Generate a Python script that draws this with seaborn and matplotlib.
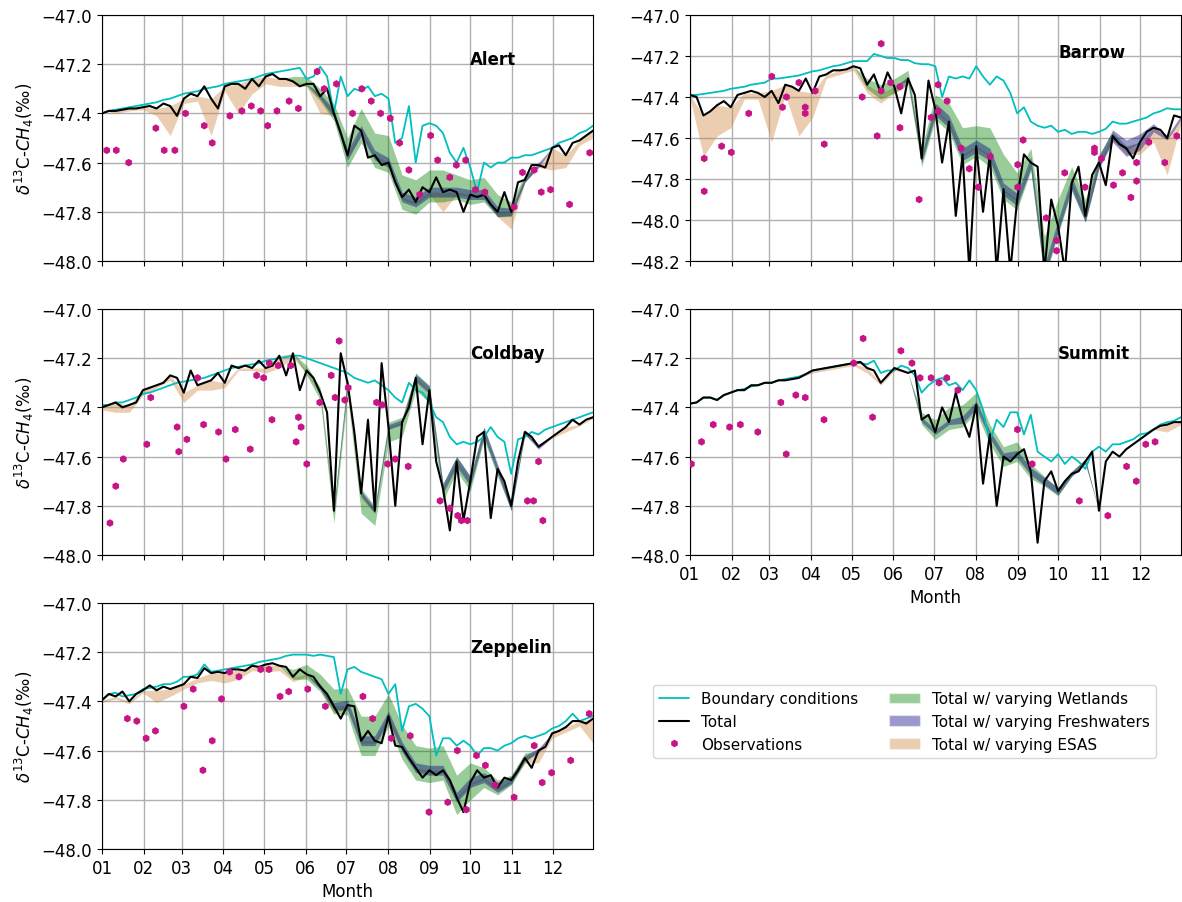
import numpy as np
import pandas as pd
import matplotlib
matplotlib.use("Agg")
import matplotlib.pyplot as plt
from matplotlib.lines import Line2D
from matplotlib.patches import Patch
from matplotlib.ticker import FuncFormatter
import seaborn as sns

# model series every ~5 days (73 points), band spreads every ~10 days (37 points)
days = np.arange(73) * 364 / 72
band_days = days[::2]

month_start = [0, 31, 59, 90, 120, 151, 181, 212, 243, 273, 304, 334]
month_labels = ["01", "02", "03", "04", "05", "06", "07", "08", "09", "10", "11", "12"]

# ---------------- Alert ----------------
alert_total = [
    -47.40, -47.39, -47.39, -47.385, -47.38, -47.38, -47.375, -47.37, -47.38, -47.36,
    -47.37, -47.41, -47.34, -47.32, -47.33, -47.29, -47.34, -47.38, -47.29, -47.28,
    -47.28, -47.30, -47.26, -47.29, -47.25, -47.24, -47.26, -47.26, -47.27, -47.29,
    -47.28, -47.28, -47.33, -47.30, -47.40, -47.48, -47.57, -47.45, -47.47, -47.58,
    -47.57, -47.61, -47.60, -47.68, -47.74, -47.71, -47.76, -47.70, -47.72, -47.66,
    -47.72, -47.71, -47.72, -47.80, -47.73, -47.74, -47.73, -47.77, -47.80, -47.72,
    -47.80, -47.68, -47.67, -47.61, -47.61, -47.62, -47.54, -47.53, -47.57, -47.52,
    -47.51, -47.49, -47.47]
alert_bc = [
    -47.40, -47.39, -47.385, -47.38, -47.375, -47.37, -47.365, -47.36, -47.355, -47.345,
    -47.34, -47.33, -47.32, -47.315, -47.31, -47.30, -47.295, -47.29, -47.28, -47.275,
    -47.27, -47.265, -47.26, -47.25, -47.24, -47.235, -47.23, -47.225, -47.22, -47.215,
    -47.26, -47.25, -47.21, -47.25, -47.40, -47.25, -47.33, -47.30, -47.31, -47.29,
    -47.33, -47.32, -47.34, -47.52, -47.50, -47.37, -47.60, -47.45, -47.44, -47.45,
    -47.48, -47.56, -47.60, -47.54, -47.62, -47.72, -47.60, -47.62, -47.60, -47.60,
    -47.58, -47.58, -47.57, -47.57, -47.56, -47.55, -47.54, -47.52, -47.51, -47.50,
    -47.48, -47.47, -47.45]
alert_esas = [
    0.00, 0.01, 0.01, 0.01, 0.03, 0.12, 0.02, 0.02, 0.15, 0.02,
    0.12, 0.06, 0.03, 0.03, 0.02, 0.01, 0.07, 0.01, 0.01, 0.01,
    0.01, 0.01, 0.01, 0.01, 0.01, 0.08, 0.01, 0.01, 0.01, 0.02,
    0.07, 0.01, 0.01, 0.09, 0.05, 0.02, 0.03]
alert_wet_up = [
    0, 0, 0, 0, 0, 0, 0, 0, 0, 0,
    0, 0, 0, 0, 0.02, 0.03, 0.03, 0.04, 0.07, 0.09,
    0.09, 0.11, 0.09, 0.09, 0.09, 0.09, 0.07, 0.06, 0.07, 0.07,
    0.04, 0.02, 0, 0, 0, 0, 0]
alert_wet_dn = [
    0, 0, 0, 0, 0, 0, 0, 0, 0, 0,
    0, 0, 0, 0, 0, 0.01, 0.02, 0.03, 0.05, 0.05,
    0.05, 0.04, 0.05, 0.05, 0.04, 0.04, 0.03, 0.04, 0.03, 0.02,
    0.02, 0.01, 0, 0, 0, 0, 0]
alert_fw = [
    0, 0, 0, 0, 0, 0, 0, 0, 0, 0,
    0, 0, 0, 0, 0, 0, 0.01, 0.015, 0.02, 0.02,
    0.02, 0.02, 0.02, 0.02, 0.02, 0.02, 0.02, 0.02, 0.02, 0.02,
    0.015, 0.01, 0.01, 0, 0, 0, 0]
alert_obs_day = [3.5, 10.6, 19.8, 39.9, 46.1, 54.0, 61.9, 75.8, 81.7, 94.8, 103.7, 110.7, 117.6, 122.8,
                 129.7, 138.7, 145.6, 159.5, 164.7, 173.8, 185.7, 192.6, 199.6, 206.5, 213.7, 220.6,
                 227.5, 235.5, 243.6, 248.8, 257.8, 262.7, 269.6, 276.8, 283.8, 305.5, 311.7, 320.4,
                 325.6, 332.5, 346.6, 361.5]
alert_obs_val = [-47.55, -47.55, -47.60, -47.46, -47.55, -47.55, -47.40, -47.45, -47.52, -47.41,
                 -47.39, -47.37, -47.39, -47.45, -47.39, -47.35, -47.38, -47.23, -47.30, -47.28,
                 -47.40, -47.30, -47.35, -47.40, -47.42, -47.52, -47.63, -47.73, -47.49, -47.59,
                 -47.66, -47.61, -47.59, -47.71, -47.72, -47.78, -47.64, -47.63, -47.72, -47.71,
                 -47.77, -47.56]

# ---------------- Barrow ----------------
barrow_total = [
    -47.39, -47.40, -47.49, -47.47, -47.44, -47.42, -47.45, -47.39, -47.38, -47.37,
    -47.38, -47.40, -47.37, -47.43, -47.34, -47.35, -47.37, -47.31, -47.38, -47.30,
    -47.29, -47.27, -47.27, -47.265, -47.25, -47.26, -47.34, -47.29, -47.38, -47.28,
    -47.35, -47.48, -47.31, -47.39, -47.70, -47.32, -47.46, -47.72, -47.52, -47.98,
    -47.68, -48.25, -47.64, -47.96, -47.68, -48.25, -47.85, -48.25, -47.90, -47.68,
    -47.72, -47.74, -48.25, -47.90, -48.03, -48.25, -47.82, -47.74, -47.98, -47.78,
    -47.72, -47.83, -47.59, -47.63, -47.65, -47.70, -47.62, -47.57, -47.55, -47.56,
    -47.60, -47.49, -47.50]
barrow_bc = [
    -47.39, -47.39, -47.385, -47.38, -47.375, -47.37, -47.36, -47.355, -47.35, -47.34,
    -47.335, -47.33, -47.31, -47.31, -47.305, -47.30, -47.295, -47.285, -47.275, -47.27,
    -47.26, -47.25, -47.245, -47.235, -47.225, -47.225, -47.225, -47.19, -47.20, -47.21,
    -47.21, -47.22, -47.22, -47.235, -47.24, -47.24, -47.25, -47.40, -47.30, -47.31,
    -47.30, -47.31, -47.25, -47.30, -47.34, -47.30, -47.32, -47.38, -47.48, -47.45,
    -47.52, -47.54, -47.55, -47.54, -47.57, -47.56, -47.58, -47.57, -47.57, -47.58,
    -47.57, -47.555, -47.52, -47.53, -47.53, -47.52, -47.51, -47.50, -47.48, -47.47,
    -47.455, -47.46, -47.46]
barrow_esas = [
    0.01, 0.20, 0.15, 0.10, 0.03, 0.03, 0.25, 0.05, 0.22, 0.12,
    0.02, 0.02, 0.02, 0.04, 0.05, 0.03, 0.02, 0.01, 0.01, 0.01,
    0.01, 0.01, 0.01, 0.01, 0.01, 0.01, 0.01, 0.01, 0.01, 0.02,
    0.02, 0.02, 0.03, 0.06, 0.07, 0.18, 0.03]
barrow_wet_up = [
    0, 0, 0, 0, 0, 0, 0, 0, 0, 0,
    0, 0, 0, 0.03, 0.04, 0.04, 0.04, 0.05, 0.07, 0.09,
    0.13, 0.10, 0.13, 0.17, 0.13, 0.07, 0.17, 0.13, 0.08, 0.08,
    0.04, 0.02, 0.01, 0, 0, 0, 0]
barrow_wet_dn = [
    0, 0, 0, 0, 0, 0, 0, 0, 0, 0,
    0, 0, 0, 0.02, 0.03, 0.03, 0.03, 0.04, 0.05, 0.05,
    0.05, 0.05, 0.06, 0.05, 0.05, 0.04, 0.04, 0.04, 0.04, 0.03,
    0.02, 0.02, 0.01, 0, 0, 0, 0]
barrow_fw = [
    0, 0, 0, 0, 0, 0, 0, 0, 0, 0,
    0, 0, 0, 0, 0, 0, 0.01, 0.02, 0.03, 0.03,
    0.03, 0.03, 0.03, 0.03, 0.03, 0.03, 0.03, 0.03, 0.03, 0.03,
    0.03, 0.03, 0.04, 0.04, 0.02, 0.01, 0.01]
barrow_obs_day = [10.7, 10.7, 23.6, 30.8, 43.7, 60.8, 68.7, 71.7, 80.9, 85.6, 85.6, 93.0, 99.7, 127.8,
                  138.9, 141.9, 141.9, 148.9, 155.8, 155.8, 170.0, 178.9, 184.1, 184.1, 190.8, 201.2,
                  207.2, 213.9, 222.8, 243.1, 243.1, 247.1, 264.2, 271.9, 271.9, 277.9, 293.0, 300.0,
                  300.0, 305.2, 314.1, 320.8, 327.0, 331.2, 331.2, 340.2, 352.1, 361.0]
barrow_obs_val = [-47.70, -47.86, -47.64, -47.67, -47.48, -47.30, -47.45, -47.40, -47.33, -47.45,
                  -47.48, -47.37, -47.63, -47.40, -47.59, -47.14, -47.37, -47.33, -47.35, -47.55,
                  -47.90, -47.50, -47.34, -47.47, -47.42, -47.65, -47.75, -47.84, -47.69, -47.73,
                  -47.84, -47.61, -47.99, -48.10, -48.15, -47.77, -47.84, -47.65, -47.67, -47.70,
                  -47.83, -47.77, -47.89, -47.72, -47.81, -47.62, -47.72, -47.59]

# ---------------- Coldbay ----------------
coldbay_total = [
    -47.40, -47.39, -47.38, -47.40, -47.39, -47.38, -47.33, -47.32, -47.31, -47.30,
    -47.27, -47.28, -47.34, -47.25, -47.31, -47.30, -47.29, -47.26, -47.30, -47.23,
    -47.24, -47.23, -47.24, -47.21, -47.24, -47.23, -47.19, -47.27, -47.18, -47.33,
    -47.25, -47.28, -47.34, -47.42, -47.82, -47.18, -47.30, -47.50, -47.75, -47.45,
    -47.82, -47.22, -47.48, -47.80, -47.46, -47.40, -47.28, -47.55, -47.33, -47.62,
    -47.73, -47.90, -47.62, -47.86, -47.70, -47.52, -47.50, -47.85, -47.65, -47.70,
    -47.80, -47.62, -47.50, -47.52, -47.56, -47.54, -47.52, -47.50, -47.48, -47.45,
    -47.47, -47.45, -47.44]
coldbay_bc = [
    -47.39, -47.39, -47.38, -47.38, -47.37, -47.36, -47.345, -47.34, -47.33, -47.32,
    -47.31, -47.30, -47.295, -47.29, -47.285, -47.28, -47.27, -47.26, -47.25, -47.24,
    -47.235, -47.23, -47.225, -47.22, -47.21, -47.205, -47.20, -47.195, -47.19, -47.19,
    -47.20, -47.21, -47.22, -47.23, -47.24, -47.25, -47.26, -47.28, -47.29, -47.30,
    -47.29, -47.31, -47.33, -47.36, -47.38, -47.30, -47.33, -47.34, -47.38, -47.44,
    -47.46, -47.52, -47.55, -47.54, -47.55, -47.54, -47.52, -47.48, -47.52, -47.54,
    -47.67, -47.53, -47.52, -47.50, -47.51, -47.49, -47.48, -47.47, -47.46, -47.45,
    -47.44, -47.43, -47.42]
coldbay_esas = [
    0.01, 0.04, 0.03, 0.02, 0.01, 0.02, 0.04, 0.02, 0.04, 0.02,
    0.01, 0.01, 0.02, 0.05, 0.02, 0.01, 0.01, 0.01, 0.02, 0.02,
    0.01, 0.005, 0.005, 0.005, 0.005, 0.005, 0.005, 0.005, 0.005, 0.005,
    0.005, 0.005, 0.005, 0.005, 0.02, 0.005, 0.005]
coldbay_wet_up = [
    0, 0, 0, 0, 0, 0, 0, 0, 0, 0,
    0, 0, 0, 0, 0, 0.02, 0.02, 0.02, 0.02, 0.02,
    0.02, 0.02, 0.02, 0.02, 0.02, 0.02, 0.02, 0.02, 0.02, 0.01,
    0.01, 0, 0, 0, 0, 0, 0]
coldbay_wet_dn = [
    0, 0, 0, 0, 0, 0, 0, 0, 0, 0,
    0, 0, 0, 0, 0, 0.02, 0.03, 0.05, 0.05, 0.08,
    0.06, 0.06, 0.06, 0.05, 0.05, 0.05, 0.04, 0.04, 0.03, 0.03,
    0.02, 0.01, 0, 0, 0, 0, 0]
coldbay_fw = [
    0, 0, 0, 0, 0, 0, 0, 0, 0, 0,
    0, 0, 0, 0, 0, 0, 0, 0.01, 0.01, 0.01,
    0.01, 0.01, 0.01, 0.015, 0.015, 0.02, 0.02, 0.02, 0.02, 0.02,
    0.02, 0.01, 0.01, 0, 0, 0, 0]
coldbay_obs_day = [5.9, 10.2, 15.8, 33.2, 36.1, 55.7, 56.9, 62.9, 70.8, 75.3, 86.4, 91.9, 98.8, 109.9,
                   114.6, 119.8, 124.0, 126.0, 130.7, 139.9, 143.9, 145.6, 147.6, 151.8, 161.4, 169.9,
                   172.8, 175.8, 180.0, 182.5, 203.5, 207.7, 211.7, 217.4, 227.0, 250.6, 257.8, 263.7,
                   266.4, 270.9, 315.4, 319.9, 323.6, 326.8]
coldbay_obs_val = [-47.87, -47.72, -47.61, -47.55, -47.36, -47.48, -47.58, -47.53, -47.28, -47.47,
                   -47.50, -47.61, -47.49, -47.57, -47.27, -47.28, -47.22, -47.45, -47.23, -47.23,
                   -47.54, -47.44, -47.48, -47.63, -47.38, -47.27, -47.36, -47.13, -47.37, -47.32,
                   -47.38, -47.39, -47.63, -47.61, -47.64, -47.78, -47.81, -47.84, -47.86, -47.86,
                   -47.78, -47.78, -47.62, -47.86]

# ---------------- Summit ----------------
summit_total = [
    -47.385, -47.38, -47.36, -47.36, -47.37, -47.35, -47.34, -47.33, -47.33, -47.31,
    -47.31, -47.30, -47.30, -47.29, -47.29, -47.285, -47.28, -47.265, -47.25, -47.245,
    -47.24, -47.235, -47.23, -47.225, -47.22, -47.215, -47.24, -47.25, -47.30, -47.27,
    -47.24, -47.25, -47.26, -47.25, -47.45, -47.43, -47.50, -47.40, -47.46, -47.34,
    -47.45, -47.52, -47.39, -47.71, -47.51, -47.80, -47.60, -47.62, -47.59, -47.57,
    -47.66, -47.95, -47.70, -47.66, -47.74, -47.70, -47.67, -47.66, -47.62, -47.58,
    -47.82, -47.62, -47.58, -47.60, -47.57, -47.55, -47.53, -47.51, -47.49, -47.475,
    -47.47, -47.46, -47.46]
summit_bc = [
    -47.385, -47.38, -47.36, -47.36, -47.37, -47.35, -47.34, -47.33, -47.325, -47.315,
    -47.31, -47.30, -47.30, -47.29, -47.285, -47.28, -47.275, -47.265, -47.25, -47.245,
    -47.24, -47.235, -47.23, -47.225, -47.22, -47.22, -47.225, -47.21, -47.26, -47.25,
    -47.25, -47.23, -47.24, -47.27, -47.34, -47.31, -47.29, -47.28, -47.31, -47.30,
    -47.33, -47.29, -47.33, -47.41, -47.54, -47.45, -47.48, -47.42, -47.42, -47.51,
    -47.43, -47.58, -47.60, -47.62, -47.59, -47.63, -47.60, -47.62, -47.65, -47.58,
    -47.56, -47.58, -47.55, -47.55, -47.54, -47.53, -47.51, -47.505, -47.49, -47.47,
    -47.46, -47.455, -47.44]
summit_esas = [
    0, 0, 0, 0, 0, 0, 0, 0, 0, 0.01,
    0.01, 0.01, 0.01, 0.02, 0.01, 0.01, 0, 0, 0, 0,
    0, 0, 0, 0, 0, 0, 0, 0, 0, 0,
    0, 0, 0, 0, 0, 0.03, 0.01]
summit_wet_up = [
    0, 0, 0, 0, 0, 0, 0, 0, 0, 0,
    0, 0, 0, 0, 0, 0, 0, 0.03, 0.05, 0.06,
    0.06, 0.05, 0.04, 0.04, 0.05, 0.03, 0.02, 0.01, 0.01, 0.01,
    0, 0, 0, 0, 0, 0, 0]
summit_wet_dn = [
    0, 0, 0, 0, 0, 0, 0, 0, 0, 0,
    0, 0, 0, 0, 0, 0, 0, 0.02, 0.03, 0.03,
    0.03, 0.03, 0.04, 0.04, 0.03, 0.03, 0.02, 0.02, 0.01, 0.01,
    0, 0, 0, 0, 0, 0, 0]
summit_fw = [
    0, 0, 0, 0, 0, 0, 0, 0, 0, 0,
    0, 0, 0, 0, 0, 0, 0, 0.01, 0.01, 0.01,
    0.015, 0.015, 0.015, 0.015, 0.015, 0.015, 0.015, 0.015, 0.01, 0.01,
    0, 0, 0, 0, 0, 0, 0]
summit_obs_day = [1.2, 8.7, 17.4, 29.5, 37.5, 50.4, 67.5, 71.5, 78.6, 85.6, 99.5, 121.6, 128.5, 135.5,
                  156.5, 164.7, 170.7, 178.9, 184.8, 190.5, 198.7, 242.9, 253.8, 288.8, 309.9, 323.8,
                  331.0, 338.0, 344.9]
summit_obs_val = [-47.63, -47.54, -47.47, -47.48, -47.47, -47.50, -47.38, -47.59, -47.35, -47.36,
                  -47.45, -47.22, -47.12, -47.44, -47.17, -47.22, -47.28, -47.28, -47.30, -47.28,
                  -47.33, -47.49, -47.63, -47.78, -47.84, -47.64, -47.70, -47.55, -47.54]

# ---------------- Zeppelin ----------------
zeppelin_total = [
    -47.395, -47.37, -47.38, -47.36, -47.40, -47.37, -47.355, -47.335, -47.355, -47.34,
    -47.35, -47.34, -47.33, -47.30, -47.305, -47.265, -47.285, -47.28, -47.285, -47.27,
    -47.27, -47.275, -47.255, -47.26, -47.25, -47.245, -47.255, -47.26, -47.30, -47.27,
    -47.29, -47.30, -47.34, -47.37, -47.42, -47.47, -47.415, -47.42, -47.56, -47.52,
    -47.56, -47.57, -47.46, -47.58, -47.585, -47.63, -47.67, -47.71, -47.68, -47.70,
    -47.68, -47.72, -47.79, -47.85, -47.73, -47.68, -47.71, -47.70, -47.75, -47.71,
    -47.72, -47.68, -47.63, -47.67, -47.60, -47.585, -47.53, -47.52, -47.505, -47.48,
    -47.48, -47.49, -47.47]
zeppelin_bc = [
    -47.395, -47.37, -47.365, -47.38, -47.375, -47.37, -47.35, -47.345, -47.34, -47.33,
    -47.33, -47.32, -47.30, -47.30, -47.29, -47.25, -47.28, -47.275, -47.27, -47.265,
    -47.26, -47.255, -47.25, -47.24, -47.235, -47.23, -47.225, -47.215, -47.21, -47.21,
    -47.21, -47.215, -47.21, -47.215, -47.22, -47.37, -47.27, -47.26, -47.28, -47.29,
    -47.30, -47.31, -47.37, -47.33, -47.52, -47.42, -47.41, -47.43, -47.46, -47.62,
    -47.55, -47.55, -47.58, -47.56, -47.58, -47.62, -47.59, -47.59, -47.60, -47.58,
    -47.57, -47.55, -47.54, -47.55, -47.54, -47.53, -47.51, -47.50, -47.48, -47.45,
    -47.48, -47.47, -47.46]
zeppelin_esas = [
    0.01, 0.01, 0.01, 0.01, 0.05, 0.03, 0.02, 0.02, 0.03, 0.04,
    0.04, 0.02, 0.03, 0.02, 0.02, 0.01, 0.01, 0.03, 0.01, 0.01,
    0.01, 0.01, 0.01, 0.01, 0.01, 0.01, 0.01, 0.01, 0.01, 0.01,
    0.01, 0.02, 0.05, 0.02, 0.02, 0.02, 0.10]
zeppelin_wet_up = [
    0, 0, 0, 0, 0, 0, 0, 0, 0, 0,
    0, 0, 0, 0, 0.03, 0.04, 0.05, 0.07, 0.07, 0.10,
    0.10, 0.09, 0.09, 0.09, 0.09, 0.10, 0.09, 0.08, 0.04, 0.03,
    0.02, 0.02, 0, 0, 0, 0, 0]
zeppelin_wet_dn = [
    0, 0, 0, 0, 0, 0, 0, 0, 0, 0,
    0, 0, 0, 0, 0.01, 0.02, 0.02, 0.03, 0.04, 0.06,
    0.06, 0.04, 0.05, 0.05, 0.05, 0.04, 0.07, 0.07, 0.04, 0.03,
    0.02, 0.02, 0, 0, 0, 0, 0]
zeppelin_fw = [
    0, 0, 0, 0, 0, 0, 0, 0, 0, 0,
    0, 0, 0, 0, 0, 0, 0.01, 0.015, 0.02, 0.02,
    0.02, 0.02, 0.02, 0.02, 0.02, 0.02, 0.02, 0.02, 0.02, 0.02,
    0.015, 0.01, 0.01, 0, 0, 0, 0]
zeppelin_obs_day = [18.8, 25.8, 32.7, 39.6, 60.7, 67.6, 74.8, 81.7, 88.6, 94.6, 101.5, 117.6, 123.8,
                    132.0, 138.4, 152.5, 165.6, 193.4, 200.6, 214.4, 228.5, 242.4, 256.3, 263.4, 270.1,
                    277.6, 284.2, 291.4, 305.5, 320.4, 326.3, 333.3, 347.4, 361.2]
zeppelin_obs_val = [-47.47, -47.48, -47.55, -47.52, -47.42, -47.35, -47.68, -47.56, -47.39, -47.28,
                    -47.30, -47.27, -47.27, -47.38, -47.36, -47.35, -47.42, -47.38, -47.47, -47.55,
                    -47.54, -47.85, -47.81, -47.60, -47.84, -47.62, -47.66, -47.74, -47.79, -47.58,
                    -47.73, -47.69, -47.64, -47.45]

stations = [
    ("Alert", (0, 0), -48.0, alert_bc, alert_total, alert_esas, alert_wet_up, alert_wet_dn, alert_fw,
     alert_obs_day, alert_obs_val),
    ("Barrow", (0, 1), -48.2, barrow_bc, barrow_total, barrow_esas, barrow_wet_up, barrow_wet_dn, barrow_fw,
     barrow_obs_day, barrow_obs_val),
    ("Coldbay", (1, 0), -48.0, coldbay_bc, coldbay_total, coldbay_esas, coldbay_wet_up, coldbay_wet_dn,
     coldbay_fw, coldbay_obs_day, coldbay_obs_val),
    ("Summit", (1, 1), -48.0, summit_bc, summit_total, summit_esas, summit_wet_up, summit_wet_dn, summit_fw,
     summit_obs_day, summit_obs_val),
    ("Zeppelin", (2, 0), -48.0, zeppelin_bc, zeppelin_total, zeppelin_esas, zeppelin_wet_up,
     zeppelin_wet_dn, zeppelin_fw, zeppelin_obs_day, zeppelin_obs_val),
]

sns.set_style("ticks", {"axes.grid": True, "grid.color": "#b0b0b0", "axes.edgecolor": "black",
                        "text.color": "black", "axes.labelcolor": "black",
                        "xtick.color": "black", "ytick.color": "black"})
plt.rcParams["font.family"] = ["DejaVu Sans"]
plt.rcParams["font.size"] = 12
plt.rcParams["grid.linewidth"] = 1.0

BC_COL = "c"
OBS_COL = "mediumvioletred"
WET_COL, FW_COL, ESAS_COL = "green", "navy", "peru"

fig, axes = plt.subplots(3, 2, figsize=(11.82, 9.03))
fig.subplots_adjust(left=0.0863, right=0.999, top=0.9823, bottom=0.0587, wspace=0.197, hspace=0.195)
axes[2, 1].axis("off")

fmt = FuncFormatter(lambda v, p: f"{v:.1f}".replace("-", "\u2212"))

for name, (r, c), ylo, bc, tot, esas, wup, wdn, fw, od, ov in stations:
    ax = axes[r, c]
    tot = np.array(tot)
    tb = tot[::2]
    esas, wup, wdn, fw = map(np.array, (esas, wup, wdn, fw))
    df = pd.DataFrame({"day": days, "bc": bc, "total": tot})

    ax.fill_between(band_days, tb - esas, tb, color=ESAS_COL, alpha=0.4, lw=0)
    ax.fill_between(band_days, tb - wdn, tb + wup, color=WET_COL, alpha=0.4, lw=0)
    ax.fill_between(band_days, tb - fw, tb + fw, color=FW_COL, alpha=0.4, lw=0)
    sns.lineplot(data=df, x="day", y="bc", color=BC_COL, lw=1.3, ax=ax, sort=False, estimator=None)
    sns.lineplot(data=df, x="day", y="total", color="black", lw=1.5, ax=ax, sort=False, estimator=None)
    sns.scatterplot(x=od, y=ov, marker="h", s=30, color=OBS_COL, edgecolor="none", ax=ax, zorder=5)

    ax.set_xlim(0, 364)
    ax.set_ylim(ylo, -47.0)
    ax.set_yticks(np.round(np.arange(ylo, -46.99, 0.2), 1))
    ax.yaxis.set_major_formatter(fmt)
    ax.set_xticks(month_start)
    ax.set_xticklabels(month_labels)
    ax.text(273, -47.18, name, fontweight="bold", va="center", ha="left", color="black")
    ax.set_xlabel("Month" if name in ("Summit", "Zeppelin") else "")
    if name not in ("Summit", "Zeppelin"):
        ax.tick_params(labelbottom=False)
    ax.set_ylabel(r"$\delta^{13}$C-$CH_4$(‰)" if c == 0 else "")

handles = [
    Line2D([], [], color=BC_COL, lw=1.3, label="Boundary conditions"),
    Line2D([], [], color="black", lw=1.5, label="Total"),
    Line2D([], [], ls="none", marker="h", ms=5.5, color=OBS_COL, mec="none", label="Observations"),
    Patch(facecolor=WET_COL, alpha=0.4, label="Total w/ varying Wetlands"),
    Patch(facecolor=FW_COL, alpha=0.4, label="Total w/ varying Freshwaters"),
    Patch(facecolor=ESAS_COL, alpha=0.4, label="Total w/ varying ESAS"),
]
fig.legend(handles=handles, ncol=2, loc="center", bbox_to_anchor=(0.765, 0.200), fontsize=11,
           frameon=True, edgecolor="0.8")

fig.savefig("out.png", dpi=100)
